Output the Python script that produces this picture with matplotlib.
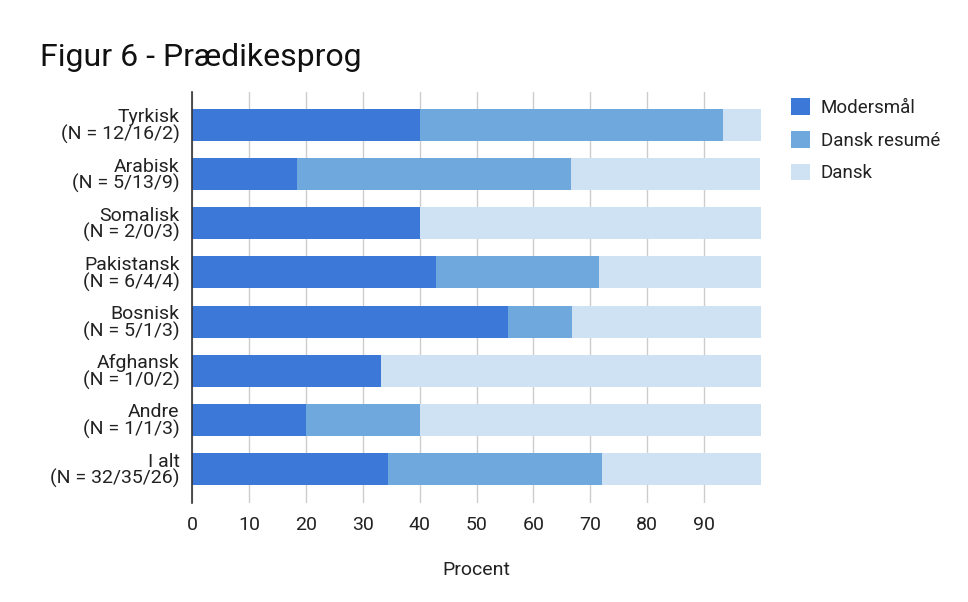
import matplotlib.pyplot as plt
from matplotlib.patches import Patch

plt.rcParams['font.family'] = ['Roboto', 'DejaVu Sans']

# groups and counts as printed in the labels
groups = ['Tyrkisk', 'Arabisk', 'Somalisk', 'Pakistansk', 'Bosnisk', 'Afghansk', 'Andre', 'I alt']
counts = ['12/16/2', '5/13/9', '2/0/3', '6/4/4', '5/1/3', '1/0/2', '1/1/3', '32/35/26']

# percentages
modersmaal = [40.0, 18.5, 40.0, 42.9, 55.6, 33.3, 20.0, 34.4]
dansk_resume = [53.3, 48.1, 0.0, 28.6, 11.1, 0.0, 20.0, 37.6]
dansk = [6.7, 33.3, 60.0, 28.6, 33.3, 66.7, 60.0, 28.0]

series = ['Modersmål', 'Dansk resumé', 'Dansk']
colors = ['#3c78d8', '#6fa8dc', '#cfe2f3']

fig = plt.figure(figsize=(9.68, 6.02), dpi=100)
ax = fig.add_axes([192 / 968, 1 - 503 / 602, (761 - 192) / 968, (503 - 92) / 602])

ypos = list(range(len(groups)))
left = [0] * len(groups)
for vals, col, name in zip([modersmaal, dansk_resume, dansk], colors, series):
    ax.barh(ypos, vals, left=left, height=0.65, color=col, label=name, zorder=3)
    left = [a + b for a, b in zip(left, vals)]

ax.set_ylim(7 + 0.69, -0.67)
ax.set_xlim(0, 100)
ax.set_xticks(range(0, 100, 10))
ax.set_yticks(ypos)
ax.set_yticklabels([g + '\n(N = ' + c + ')' for g, c in zip(groups, counts)],
                   fontsize=14, color='#222222', linespacing=0.9)
ax.tick_params(axis='y', length=0, pad=9)
ax.tick_params(axis='x', length=0, pad=9, labelsize=14, labelcolor='#222222')
ax.grid(axis='x', color='#cccccc', linewidth=1, zorder=0)
for s in ['top', 'right', 'bottom']:
    ax.spines[s].set_visible(False)
ax.spines['left'].set_color('#333333')
ax.spines['left'].set_linewidth(1.2)
ax.spines['left'].set_zorder(4)
ax.set_xlabel('Procent', fontsize=14, color='#222222', labelpad=20)

fig.text(40 / 968, 1 - 58 / 602, 'Figur 6 - Prædikesprog', fontsize=23,
         color='#111111', va='center', ha='left')

handles = [Patch(facecolor=c, edgecolor='none') for c in colors]
fig.legend(handles, series, loc='upper left', bbox_to_anchor=(774 / 968, 1 - 81 / 602),
           frameon=False, fontsize=13.5, handlelength=1.0, handleheight=1.0,
           handletextpad=0.6, labelspacing=0.75, labelcolor='#222222')

fig.savefig('out.png', dpi=100)
